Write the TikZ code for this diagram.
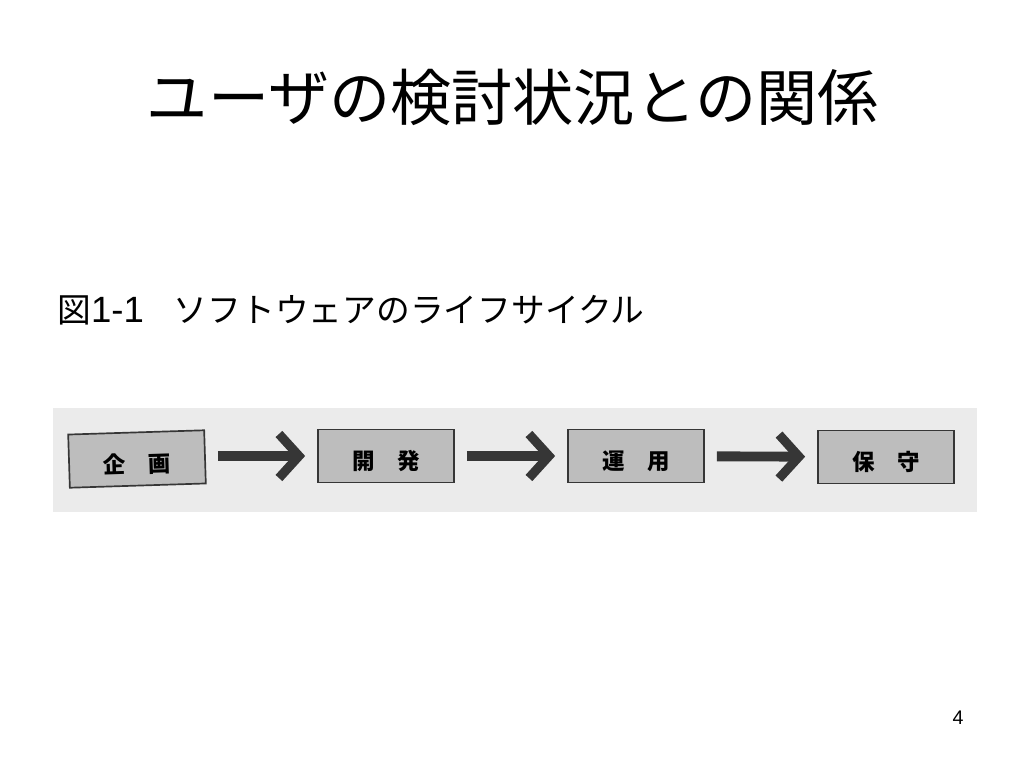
\documentclass[tikz,border=0pt]{standalone}
\usepackage{fontspec}
\setmainfont{Liberation Sans}
\newfontfamily\jp{Noto Sans CJK JP}
\usetikzlibrary{arrows.meta,positioning}

\definecolor{scangray}{HTML}{EBEBEB}
\definecolor{boxgray}{HTML}{BDBDBD}
\definecolor{inkdark}{HTML}{363636}

\begin{document}
\begin{tikzpicture}[x=0.025cm, y=-0.025cm,
    stagebox/.style={draw=inkdark, line width=1.2pt, fill=boxgray, minimum width=3.4cm, minimum height=1.33cm, inner sep=0pt, text height=0.68cm, text depth=0cm, font=\jp\bfseries\fontsize{16}{17}\selectfont},
    flowarrow/.style={draw=inkdark, line width=7pt, shorten <=0.3cm, shorten >=0.3cm, -{Straight Barb[length=0.5cm, width=1.1cm, line width=6.5pt]}}]
    % page frame
    \useasboundingbox[fill=white] (0,0) rectangle (1024,768);

    % Title
    \node[font=\jp\fontsize{43.5}{46}\selectfont] (Title) at (513,97) {ユーザの検討状況との関係};
    % Figure caption
    \node[anchor=west, font=\fontsize{24}{27}\selectfont, inner sep=0pt] (Caption) at (57,310) {{\jp 図}{\fontsize{26}{27}\selectfont 1-1}\hspace{0.75cm}{\jp ソフトウェアのライフサイクル}};

    % Scanned strip
    \node[fill=scangray, minimum width=23.08cm, minimum height=2.58cm, inner sep=0pt, anchor=north west] (Strip) at (53,408) {};

    % Life cycle stages
    \node[stagebox, rotate=1.8] (plan) at (137,459) {企\hspace{0.55cm}画};
    \node[stagebox] (dev) at (386,456) {開\hspace{0.55cm}発};
    \node[stagebox] (ops) at (636,456) {運\hspace{0.55cm}用};
    \node[stagebox] (maint) at (886,457) {保\hspace{0.55cm}守};

    % Arrows between stages
    \draw[flowarrow] (plan.east |- dev) -- (dev.west);
    \draw[flowarrow] (dev) -- (ops);
    \draw[flowarrow] (ops) -- (maint);

    % Page number
    \node[font=\fontsize{14}{16}\selectfont] (PageNo) at (958,718) {4};
\end{tikzpicture}
\end{document}
